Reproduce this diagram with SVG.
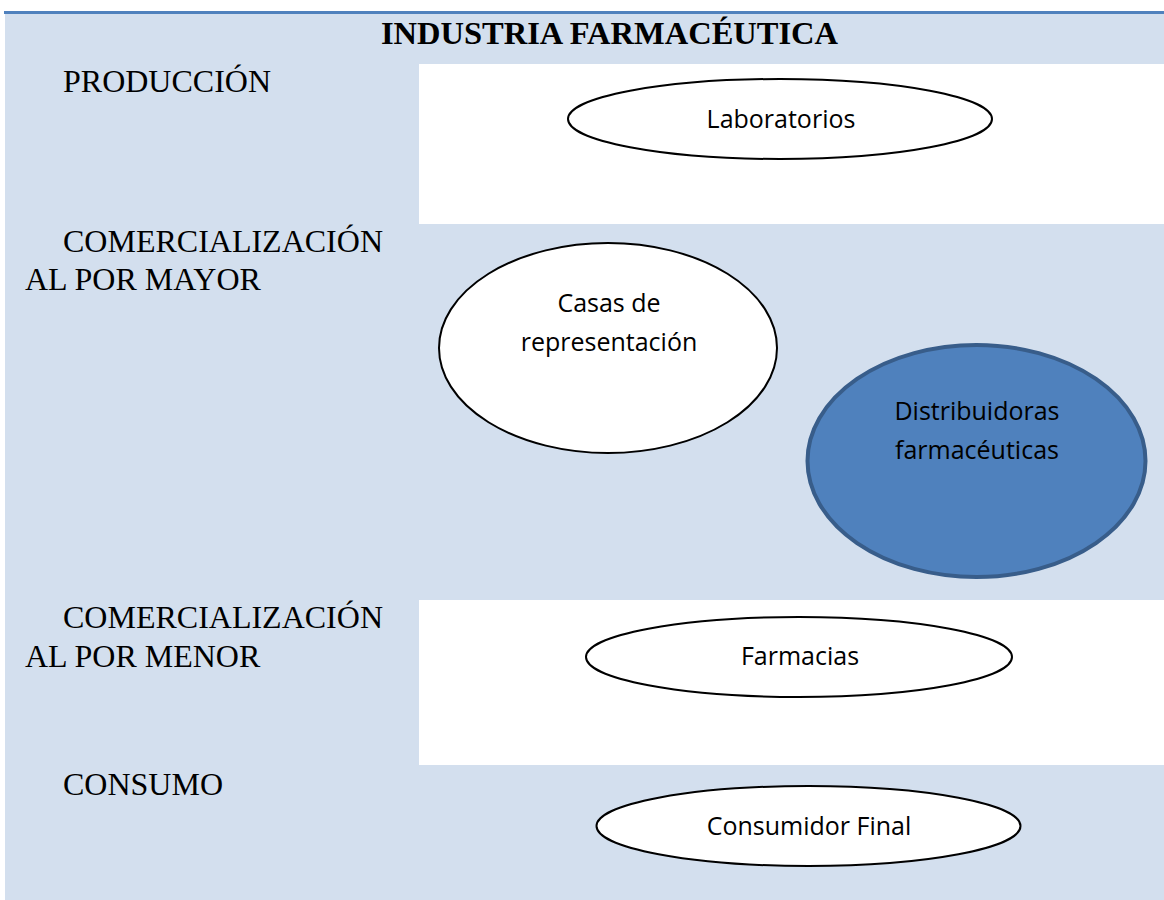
<svg xmlns="http://www.w3.org/2000/svg" width="1164" height="900" viewBox="0 0 1164 900">
<style>
.bg{fill:#d3dfee}
.wh{fill:#ffffff}
.lbl{font-family:"Liberation Serif",serif;font-size:32px;fill:#000}
.title{font-family:"Liberation Serif",serif;font-size:32.5px;font-weight:bold;fill:#000}
.el{fill:#ffffff;stroke:#000;stroke-width:2}
.elb{fill:#4f81bd;stroke:#385d8a;stroke-width:4}
.t{font-family:"Open Sans","Liberation Sans",sans-serif;font-size:25px;fill:#000;text-anchor:middle}
</style>
<g id="background">
<rect class="bg" x="5" y="13" width="1159" height="887"/>
<rect class="wh" x="419" y="64" width="745" height="160"/>
<rect class="wh" x="419" y="600" width="745" height="165"/>
<line x1="4" y1="12.5" x2="1164" y2="12.5" stroke="#4f81bd" stroke-width="3"/>
<text class="title" x="609.5" y="44" text-anchor="middle">INDUSTRIA FARMACÉUTICA</text>
</g>
<g id="labels">
<text class="lbl" x="63" y="92">PRODUCCIÓN</text>
<text class="lbl" x="63" y="252">COMERCIALIZACIÓN</text>
<text class="lbl" x="25" y="290">AL POR MAYOR</text>
<text class="lbl" x="63" y="628">COMERCIALIZACIÓN</text>
<text class="lbl" x="25" y="667">AL POR MENOR</text>
<text class="lbl" x="63" y="795">CONSUMO</text>
</g>
<g id="connectors"></g>
<g id="laboratorios">
<ellipse class="el" cx="780" cy="119" rx="212" ry="40"/>
<text class="t" x="781" y="128">Laboratorios</text>
</g>
<g id="casas">
<ellipse class="el" cx="608" cy="348" rx="169" ry="105"/>
<text class="t" x="609" y="312">Casas de</text>
<text class="t" x="609" y="351">representación</text>
</g>
<g id="distribuidoras">
<ellipse class="elb" cx="976.5" cy="461" rx="169" ry="116"/>
<text class="t" x="977" y="420">Distribuidoras</text>
<text class="t" x="977" y="459">farmacéuticas</text>
</g>
<g id="farmacias">
<ellipse class="el" cx="799" cy="657" rx="213" ry="40"/>
<text class="t" x="800" y="665">Farmacias</text>
</g>
<g id="consumidor">
<ellipse class="el" cx="808.5" cy="826" rx="212" ry="40"/>
<text class="t" x="809" y="835">Consumidor Final</text>
</g>
</svg>
